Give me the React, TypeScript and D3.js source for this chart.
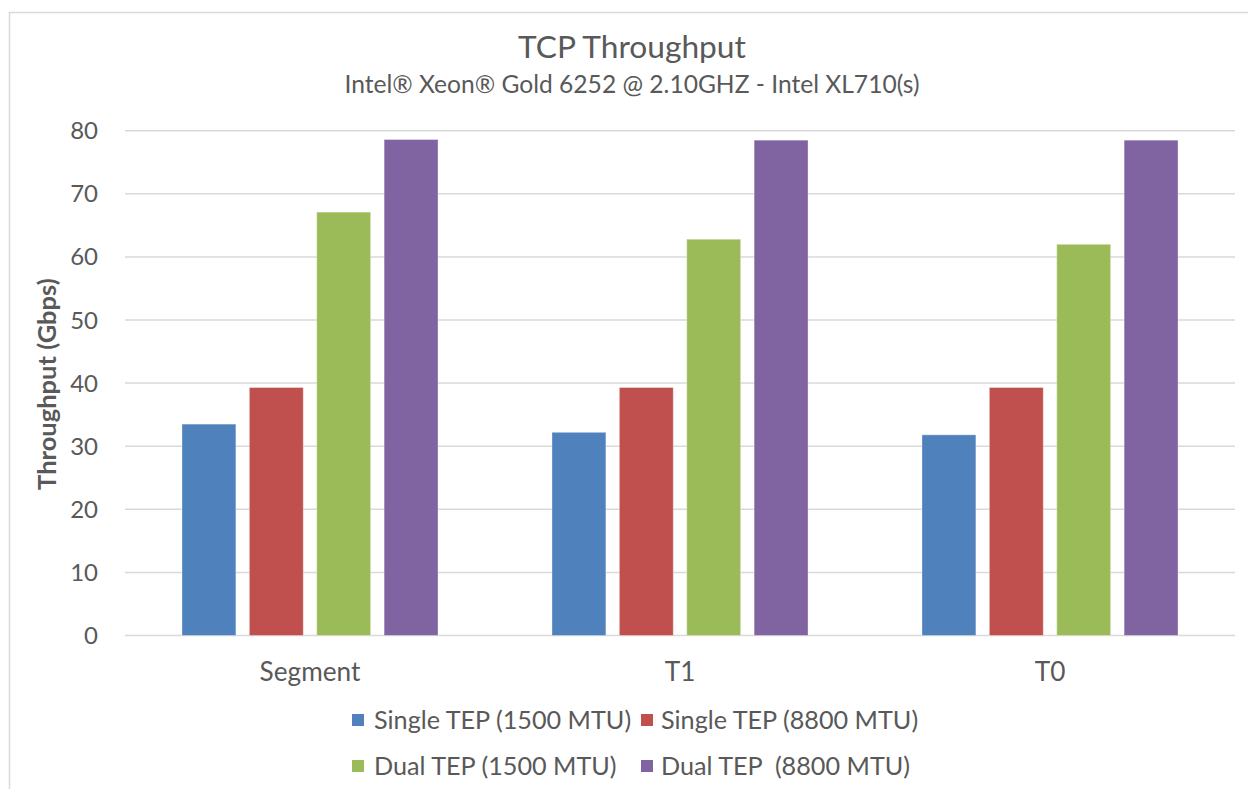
import React from "react";
import * as d3 from "d3";

const categories = ["Segment", "T1", "T0"];
const seriesNames = [
  "Single TEP (1500 MTU)",
  "Single TEP (8800 MTU)",
  "Dual TEP (1500 MTU)",
  "Dual TEP  (8800 MTU)",
];
const seriesColors = ["#4F81BD", "#C0504D", "#9BBB59", "#8064A2"];
const singleTep1500 = [33.5, 32.2, 31.8];
const singleTep8800 = [39.3, 39.3, 39.3];
const dualTep1500 = [67.1, 62.8, 62.0];
const dualTep8800 = [78.6, 78.5, 78.5];
const yTicks = [0, 10, 20, 30, 40, 50, 60, 70, 80];

const seriesValues = [singleTep1500, singleTep8800, dualTep1500, dualTep8800];

const W = 1248;
const H = 789;
const FONT = "Lato, 'Open Sans', sans-serif";
const TXT = "#595959";

export default function App() {
  const left = 125;
  const right = 1235;
  const top = 130.7;
  const bottom = 635.5;

  const x0 = d3
    .scaleBand<string>()
    .domain(categories)
    .range([left, right])
    .paddingInner(0.308)
    .paddingOuter(0.154);
  const x1 = d3
    .scaleBand<number>()
    .domain(d3.range(seriesNames.length))
    .range([0, x0.bandwidth()])
    .paddingInner(0.2)
    .paddingOuter(0);
  const y = d3.scaleLinear().domain([0, 80]).range([bottom, top]);

  const legendRows = [
    [
      { i: 0, sx: 352, tx: 374 },
      { i: 1, sx: 641, tx: 661 },
    ],
    [
      { i: 2, sx: 352, tx: 374 },
      { i: 3, sx: 641, tx: 661 },
    ],
  ];
  const legendY = [720, 766];

  return (
    <svg
      width={W}
      height={H}
      style={{ position: "absolute", left: 0, top: 0, background: "#fff" }}
      fontFamily={FONT}
    >
      <rect x={0} y={0} width={W} height={H} fill="#fff" />
      <rect x={9.5} y={12.5} width={W + 20} height={H + 20} fill="none" stroke="#d9d9d9" strokeWidth={1.5} />

      <text x={632} y={58} textAnchor="middle" fontSize={31.7} fill={TXT}>
        TCP Throughput
      </text>
      <text x={632} y={93} textAnchor="middle" fontSize={24.6} fill={TXT}>
        Intel® Xeon® Gold 6252 @ 2.10GHZ - Intel XL710(s)
      </text>

      {yTicks.map((t) => (
        <g key={t}>
          <line x1={left} x2={right} y1={y(t)} y2={y(t)} stroke="#d9d9d9" strokeWidth={1.5} />
          <text x={98} y={y(t) + 8.5} textAnchor="end" fontSize={24} fill={TXT}>
            {t}
          </text>
        </g>
      ))}

      <text
        transform={`translate(56,${(top + bottom) / 2 + 1}) rotate(-90)`}
        textAnchor="middle"
        fontSize={25.5}
        fontWeight="bold"
        fill={TXT}
      >
        Throughput (Gbps)
      </text>

      {categories.map((c, ci) => (
        <g key={c} transform={`translate(${x0(c)},0)`}>
          {seriesValues.map((vals, si) => (
            <rect
              key={si}
              x={x1(si)}
              y={y(vals[ci])}
              width={x1.bandwidth()}
              height={y(0) - y(vals[ci])}
              fill={seriesColors[si]}
              stroke="#ffffff"
              strokeOpacity={0.35}
              strokeWidth={1}
            />
          ))}
          <text
            x={x0.bandwidth() / 2}
            y={681}
            textAnchor="middle"
            fontSize={26.2}
            fill={TXT}
          >
            {c}
          </text>
        </g>
      ))}

      {legendRows.map((row, ri) =>
        row.map((it) => (
          <g key={it.i}>
            <rect x={it.sx} y={legendY[ri] - 6} width={12} height={12} fill={seriesColors[it.i]} />
            <text x={it.tx} y={legendY[ri] + 9} fontSize={25.2} fill={TXT} style={{ whiteSpace: "pre" }}>
              {seriesNames[it.i]}
            </text>
          </g>
        ))
      )}
    </svg>
  );
}
